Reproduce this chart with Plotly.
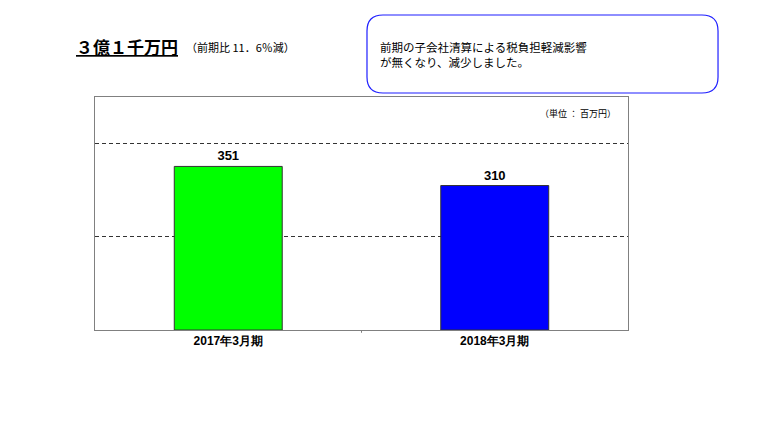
import plotly.graph_objects as go

categories = ["2017年3月期", "2018年3月期"]
values = [351, 310]
colors = ["#00FF00", "#0000FF"]

F = "Noto Sans CJK JP"
OX, OY = 8, 8  # page offset compensation
L, T, R, B = 95 - OX, 97 - OY, 628 - OX, 330 - OY
W, H = R - L, B - T

fig = go.Figure(go.Bar(
    x=categories, y=values, width=0.405,
    marker=dict(color=colors, line=dict(color="#333333", width=1)),
    text=[f"<b>{v}</b>" for v in values], textposition="outside",
    textfont=dict(family="Liberation Sans", size=13, color="black"),
    cliponaxis=False,
))

def px(x, y):
    return f"{(x-OX-L)/W:.4f} {(B-(y-OY))/H:.4f}"

p = (f"M {px(383,15)} L {px(702,15)} Q {px(718,15)} {px(718,31)} L {px(718,77)} "
     f"Q {px(718,93)} {px(702,93)} L {px(383,93)} Q {px(367,93)} {px(367,77)} "
     f"L {px(367,31)} Q {px(367,15)} {px(383,15)} Z")

def ax(x): return (x - OX - L) / W
def ay(y): return (B - (y - OY)) / H

fig.update_layout(
    width=768, height=432, margin=dict(l=L, r=768 - R, t=T, b=432 - B),
    paper_bgcolor="white", plot_bgcolor="white", showlegend=False,
    font=dict(family=F, color="black"),
    xaxis=dict(showline=True, mirror=True, linecolor="#808080", linewidth=1,
               tickfont=dict(family="Liberation Sans", size=12, color="black"),
               tickvals=categories, ticktext=[f"<b>{c}</b>" for c in categories],
               ticks="", showgrid=False),
    yaxis=dict(range=[0, 500], showline=True, mirror=True, linecolor="#808080",
               linewidth=1, showticklabels=False, ticks="",
               tickvals=[200, 400], showgrid=True, gridcolor="#333333",
               griddash="4px,3px", gridwidth=1, zeroline=False),
    shapes=[
        dict(type="line", xref="paper", yref="paper", x0=0.5, x1=0.5, y0=0, y1=-0.012,
             line=dict(color="#808080", width=1)),
        dict(type="path", xref="paper", yref="paper", path=p,
             line=dict(color="#1F1FFF", width=1.2)),
    ],
    annotations=[
        dict(xref="paper", yref="paper", x=ax(74), y=ay(46), xanchor="left",
             yanchor="middle", showarrow=False,
             text="<b><u>３億１千万円</u></b>", font=dict(family=F, size=17)),
        dict(xref="paper", yref="paper", x=ax(184), y=ay(47), xanchor="left",
             yanchor="middle", showarrow=False,
             text="（前期比 11．6％減）", font=dict(family=F, size=11)),
        dict(xref="paper", yref="paper", x=ax(378), y=ay(55), xanchor="left",
             yanchor="middle", showarrow=False, align="left",
             text="前期の子会社清算による税負担軽減影響<br>が無くなり、減少しました。",
             font=dict(family=F, size=11.5)),
        dict(xref="paper", yref="paper", x=ax(618), y=ay(113), xanchor="right",
             yanchor="middle", showarrow=False,
             text="（単位 ： 百万円）", font=dict(family=F, size=9)),
    ],
)
fig.write_html("out.html")
